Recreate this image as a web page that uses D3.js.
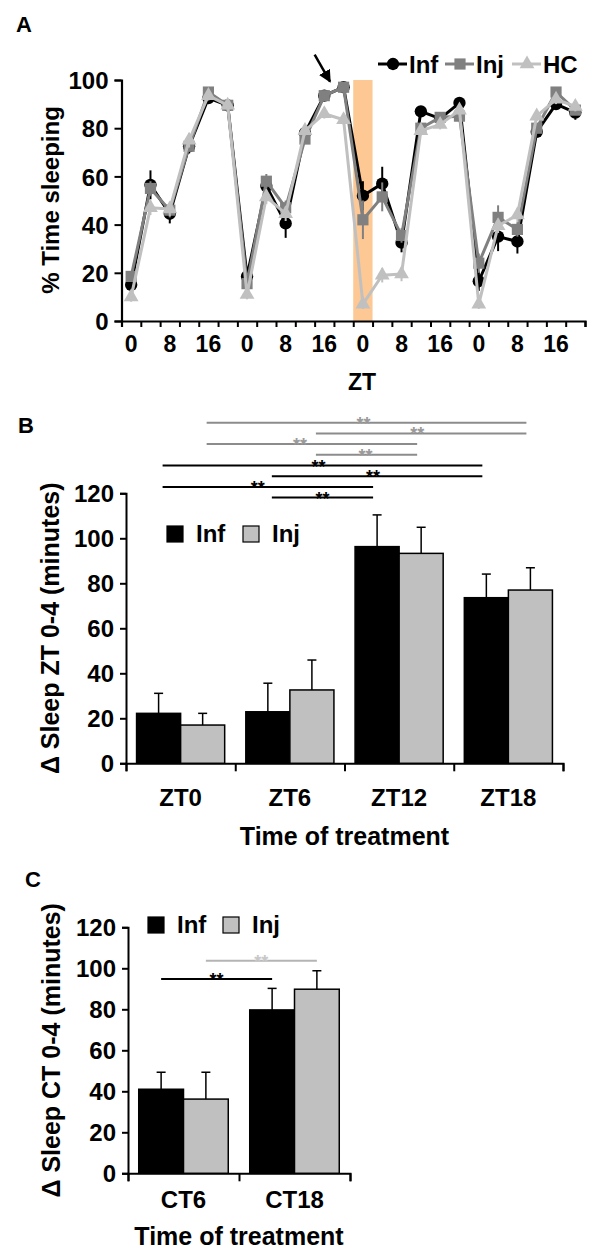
<!DOCTYPE html>
<html><head><meta charset="utf-8">
<script src="https://cdn.jsdelivr.net/npm/d3@7"></script>
<style>
body{margin:0;background:#fff}
svg{display:block}
text{font-family:"Liberation Sans",Arial,sans-serif;font-weight:bold;fill:#000}
</style>
</head><body>
<svg id="chart" width="600" height="1260"></svg>
<script>
// ---------- Panel A data (24 four-hour bins, 4 days) ----------
const binTickLabels = ["0","","8","","16","","0","","8","","16","","0","","8","","16","","0","","8","","16",""];
const infA = [15,56.5,44.5,72.5,92.5,89.5,18.5,56,40.5,78,93.5,97,52,57,32.5,87,84,90.5,16.5,35,33,78.5,90,86.5];
const infErr = [3,6,4,3,2,2,3,3,6,2,2,2,6,7,4,2,2,2,4,6,5,2,2,3];
const injA = [18.5,55,46,72.5,95,89.5,15.5,58,47,75.5,93.5,97,42,51.5,35.5,80,84.5,85,24,43,38,80,95,87.5];
const injErr = [2,3,3,2,2,2,2,3,3,2,2,2,8,6,3,2,2,2,4,5,3,2,2,2];
const hcA = [10,47,46.5,75,93.5,89.5,11,51.5,44.5,79,86,83.5,7,19,19.5,79,81.5,87.5,7,39.5,44,85,92,89];
const hcErr = [2,3,3,3,2,2,2,3,3,2,2,2,2,3,3,2,2,2,2,3,3,2,2,2];
const highlightBin = 12;
const yTicksA = [0,20,40,60,80,100];

// ---------- Panel B data ----------
const groupsB = ["ZT0","ZT6","ZT12","ZT18"];
const infB = [22.2,22.9,96.3,73.6];
const infBErr = [8.9,12.7,14.1,10.5];
const injB = [17,32.6,93.3,77];
const injBErr = [5.2,13.3,11.6,9.9];
const yTicksB = [0,20,40,60,80,100,120];
// significance pairs, top to bottom
const sigB = [
  {a:"ZT0",b:"ZT18",s:"Inj"},
  {a:"ZT6",b:"ZT18",s:"Inj"},
  {a:"ZT0",b:"ZT12",s:"Inj"},
  {a:"ZT6",b:"ZT12",s:"Inj"},
  {a:"ZT0",b:"ZT18",s:"Inf"},
  {a:"ZT6",b:"ZT18",s:"Inf"},
  {a:"ZT0",b:"ZT12",s:"Inf"},
  {a:"ZT6",b:"ZT12",s:"Inf"}
];

// ---------- Panel C data ----------
const groupsC = ["CT6","CT18"];
const infC = [41,79.7];
const infCErr = [8.3,10.5];
const injC = [36.2,89.8];
const injCErr = [13.1,9];
const yTicksC = [0,20,40,60,80,100,120];
const sigC = [
  {a:"CT6",b:"CT18",s:"Inj"},
  {a:"CT6",b:"CT18",s:"Inf"}
];

const svg = d3.select("#chart");
const INJ_GRAY = "#808080", HC_GRAY = "#c0c0c0", BAR_GRAY = "#c0c0c0";

// =================== PANEL A ===================
(function(){
  const g = svg.append("g");
  const x = d3.scaleLinear().domain([0,24]).range([121.5,585]);
  const y = d3.scaleLinear().domain([0,100]).range([321,80]);

  g.append("text").attr("x",16).attr("y",32).style("font-size","22px").text("A");

  g.append("rect").attr("x",x(highlightBin)).attr("width",x(highlightBin+1)-x(highlightBin))
    .attr("y",y(100)).attr("height",y(0)-y(100)).attr("fill","#fdc893");

  const yAx = g.append("g").attr("transform",`translate(${x(0)},0)`)
    .call(d3.axisLeft(y).tickValues(yTicksA).tickSize(7).tickPadding(6));
  const xAx = g.append("g").attr("transform",`translate(0,${y(0)})`)
    .call(d3.axisBottom(x).tickValues(d3.range(25)).tickSize(6).tickFormat(""));
  [yAx,xAx].forEach(a=>{a.select(".domain").attr("stroke-width",2.2);a.selectAll(".tick line").attr("stroke-width",2);});
  yAx.selectAll("text").style("font-size","24px").attr("dy","0.36em");
  g.append("g").selectAll("text").data(binTickLabels).join("text")
    .attr("x",(d,i)=>x(i+0.5)).attr("y",352).attr("text-anchor","middle")
    .style("font-size","23px").text(d=>d);

  g.append("text").attr("x",362).attr("y",390).attr("text-anchor","middle").style("font-size","23px").text("ZT");
  g.append("text").attr("transform","translate(59,200) rotate(-90)").attr("text-anchor","middle")
    .style("font-size","24px").text("% Time sleeping");

  const series = [
    {name:"Inf",vals:infA,err:infErr,color:"#000",sym:d3.symbolCircle,size:120},
    {name:"Inj",vals:injA,err:injErr,color:INJ_GRAY,sym:d3.symbolSquare,size:125},
    {name:"HC",vals:hcA,err:hcErr,color:HC_GRAY,sym:d3.symbolTriangle,size:95}
  ];
  const line = d3.line().x((d,i)=>x(i+0.5)).y(d=>y(d));
  series.forEach(s=>{
    const sg = g.append("g");
    sg.selectAll("line.err").data(s.vals).join("line").attr("class","err")
      .attr("x1",(d,i)=>x(i+0.5)).attr("x2",(d,i)=>x(i+0.5))
      .attr("y1",(d,i)=>y(d-s.err[i])).attr("y2",(d,i)=>y(d+s.err[i]))
      .attr("stroke",s.color).attr("stroke-width",2);
    sg.append("path").datum(s.vals).attr("d",line).attr("fill","none")
      .attr("stroke",s.color).attr("stroke-width",3).attr("stroke-linejoin","round");
    sg.selectAll("path.sym").data(s.vals).join("path").attr("class","sym")
      .attr("transform",(d,i)=>`translate(${x(i+0.5)},${y(d)})`)
      .attr("d",d3.symbol(s.sym,s.size)).attr("fill",s.color);
  });

  const defs = svg.append("defs");
  defs.append("marker").attr("id","ah").attr("viewBox","0 0 10 10").attr("refX",9).attr("refY",5)
    .attr("markerWidth",5).attr("markerHeight",5).attr("orient","auto")
    .append("path").attr("d","M0,0 L10,5 L0,10 Z").attr("fill","#000");
  g.append("line").attr("x1",x(10.0)).attr("y1",y(110.5)).attr("x2",x(10.8)).attr("y2",y(99.3))
    .attr("stroke","#000").attr("stroke-width",2.5).attr("marker-end","url(#ah)");

  const lg = g.append("g");
  const legX = [378,445,512];
  series.forEach((s,i)=>{
    const lx = legX[i];
    lg.append("line").attr("x1",lx).attr("x2",lx+29).attr("y1",64).attr("y2",64)
      .attr("stroke",s.color).attr("stroke-width",3);
    lg.append("path").attr("transform",`translate(${lx+15},64)`).attr("d",d3.symbol(s.sym,s.size)).attr("fill",s.color);
    lg.append("text").attr("x",lx+31).attr("y",73).style("font-size","24px").text(s.name);
  });
})();

function barPanel(opt){
  const g = svg.append("g");
  const x0 = d3.scaleBand().domain(opt.groups).range(opt.xr).paddingInner(0).paddingOuter(0);
  const x1 = d3.scaleBand().domain(["Inf","Inj"]).range([0,x0.bandwidth()]).paddingInner(0).paddingOuter(opt.outer);
  const y = d3.scaleLinear().domain([0,120]).range(opt.yr);

  g.append("text").attr("x",opt.label[0]).attr("y",opt.label[1]).style("font-size","22px").text(opt.labelText);

  const yAx = g.append("g").attr("transform",`translate(${opt.xr[0]},0)`)
    .call(d3.axisLeft(y).tickValues(opt.yTicks).tickSize(6).tickPadding(6));
  const xAx = g.append("g").attr("transform",`translate(0,${y(0)})`)
    .call(d3.axisBottom(d3.scaleLinear().domain([0,opt.groups.length]).range(opt.xr))
      .tickValues(d3.range(opt.groups.length+1)).tickSize(8).tickFormat(""));
  [yAx,xAx].forEach(a=>{a.select(".domain").attr("stroke-width",2);a.selectAll(".tick line").attr("stroke-width",2);});
  yAx.selectAll("text").style("font-size","24px").attr("dy","0.36em");

  g.append("g").selectAll("text").data(opt.groups).join("text")
    .attr("x",d=>x0(d)+x0.bandwidth()/2).attr("y",opt.catY).attr("text-anchor","middle")
    .style("font-size","24px").text(d=>d);
  g.append("text").attr("x",(opt.xr[0]+opt.xr[1])/2).attr("y",opt.titleY).attr("text-anchor","middle")
    .style("font-size","25px").text("Time of treatment");
  g.append("text").attr("transform",`translate(${opt.ytX},${(opt.yr[0]+opt.yr[1])/2}) rotate(-90)`)
    .attr("text-anchor","middle").style("font-size","25px").text(opt.yTitle);

  const sets = [
    {k:"Inf",vals:opt.inf,err:opt.infErr,fill:"#000"},
    {k:"Inj",vals:opt.inj,err:opt.injErr,fill:BAR_GRAY}
  ];
  sets.forEach(s=>{
    const cx = (d,i)=>x0(opt.groups[i])+x1(s.k)+x1.bandwidth()/2;
    g.append("g").selectAll("line.e").data(s.vals).join("line")
      .attr("x1",cx).attr("x2",cx).attr("y1",d=>y(d)).attr("y2",(d,i)=>y(d+s.err[i]))
      .attr("stroke","#000").attr("stroke-width",1.5);
    g.append("g").selectAll("line.c").data(s.vals).join("line")
      .attr("x1",(d,i)=>cx(d,i)-4.5).attr("x2",(d,i)=>cx(d,i)+4.5)
      .attr("y1",(d,i)=>y(d+s.err[i])).attr("y2",(d,i)=>y(d+s.err[i]))
      .attr("stroke","#000").attr("stroke-width",1.5);
    g.append("g").selectAll("rect").data(s.vals).join("rect")
      .attr("x",(d,i)=>x0(opt.groups[i])+x1(s.k)).attr("width",x1.bandwidth())
      .attr("y",d=>y(d)).attr("height",d=>y(0)-y(d))
      .attr("fill",s.fill).attr("stroke","#000").attr("stroke-width",1.5);
  });

  const L = opt.legend;
  [["Inf","#000"],["Inj",BAR_GRAY]].forEach((d,i)=>{
    const lx = L[0] + i*L[2];
    g.append("rect").attr("x",lx).attr("y",L[1]-15).attr("width",16).attr("height",16)
      .attr("fill",d[1]).attr("stroke","#000").attr("stroke-width",1.2);
    g.append("text").attr("x",lx+29).attr("y",L[1]+1).style("font-size","24px").text(d[0]);
  });

  opt.sig.forEach((s,k)=>{
    const xa = x0(s.a)+x1(s.s)+x1.bandwidth()/2 + opt.inset, xb = x0(s.b)+x1(s.s)+x1.bandwidth()/2 - opt.inset;
    const ly = opt.sigY[k];
    const col = s.s==="Inf" ? "#000" : opt.grayLine;
    g.append("line").attr("x1",xa).attr("x2",xb).attr("y1",ly).attr("y2",ly)
      .attr("stroke",col).attr("stroke-width",2);
    g.append("text").attr("x",(xa+xb)/2 + opt.starDx[k]).attr("y",ly+7).attr("text-anchor","middle")
      .style("font-size","18px").style("fill", s.s==="Inf" ? "#000" : opt.grayStar).text("**");
  });
}

// =================== PANEL B ===================
barPanel({
  groups:groupsB, xr:[126,563], yr:[763.3,493.3], outer:0.24, yTicks:yTicksB,
  inf:infB, infErr:infBErr, inj:injB, injErr:injBErr,
  label:[18,433], labelText:"B", catY:806, titleY:845, ytX:59,
  yTitle:"\u0394 Sleep ZT 0-4 (minutes)",
  legend:[167,541,76],
  sig:sigB, sigY:sigB.map((d,k)=>422.7+k*10.7), inset:4,
  starDx:[-3,-4,-12,-1,-4,-4,-10,0],
  grayLine:"#8c8c8c", grayStar:"#9a9a9a"
});

// =================== PANEL C ===================
barPanel({
  groups:groupsC, xr:[128,350], yr:[1173.3,927.3], outer:0.24, yTicks:yTicksC,
  inf:infC, infErr:infCErr, inj:injC, injErr:injCErr,
  label:[25,887], labelText:"C", catY:1208, titleY:1245, ytX:60,
  yTitle:"\u0394 Sleep CT 0-4 (minutes)",
  legend:[148,932,75],
  sig:sigC, sigY:[960.7,979], inset:0, starDx:[0,0],
  grayLine:"#b4b4b4", grayStar:"#c8c8c8"
});
</script>
</body></html>
